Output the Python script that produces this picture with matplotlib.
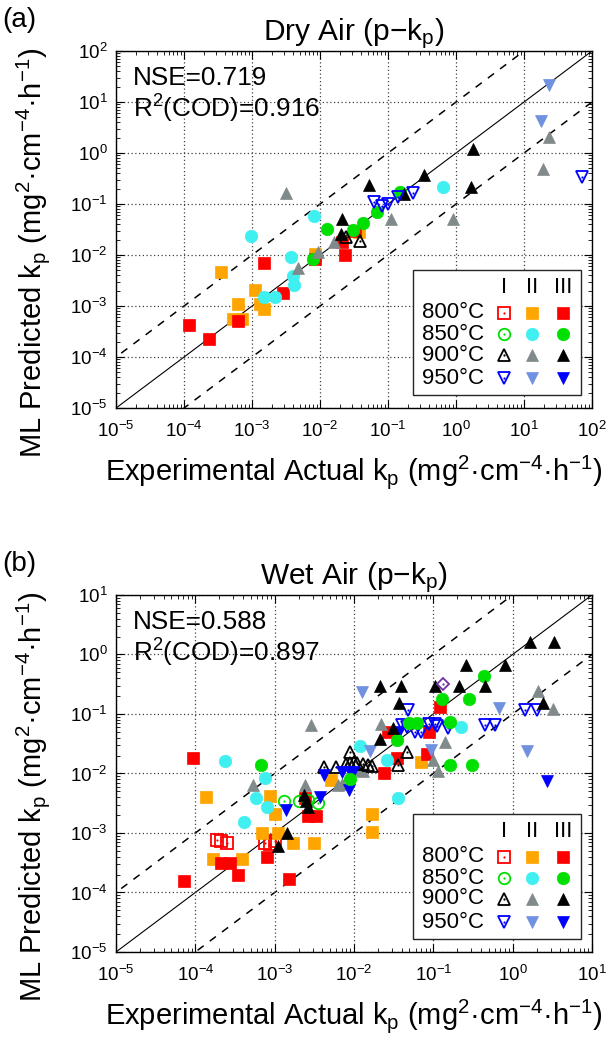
import matplotlib
matplotlib.use("Agg")
import matplotlib.pyplot as plt
from matplotlib.patches import Rectangle

plt.rcParams['font.family'] = ['Liberation Sans', 'DejaVu Sans']
plt.rcParams['mathtext.fontset'] = 'custom'
plt.rcParams['mathtext.rm'] = 'Liberation Sans'
plt.rcParams['mathtext.it'] = 'Liberation Sans:italic'
plt.rcParams['mathtext.bf'] = 'Liberation Sans:bold'

# ---------------- Dry air data ----------------
dry_800_II_x = [3.5e-4, 1.1e-3, 6.3e-4, 5.3e-4, 7.1e-4, 1.3e-3, 1.5e-3, 8.5e-3, 3.8e-2]
dry_800_II_y = [4.6e-3, 2.1e-3, 1.1e-3, 5.7e-4, 5.7e-4, 1.1e-3, 8.7e-4, 1.05e-2, 2.8e-2]
dry_800_III_x = [1.2e-4, 2.3e-4, 6.3e-4, 1.5e-3, 2.9e-3, 8.5e-3, 2.1e-2, 2.3e-2, 3.3e-2]
dry_800_III_y = [4.3e-4, 2.3e-4, 5.1e-4, 6.9e-3, 1.8e-3, 8.3e-3, 1.8e-2, 1.0e-2, 3.0e-2]
dry_850_II_x = [9.7e-4, 8.3e-3, 3.7e-3, 4.0e-3, 4.1e-3, 1.5e-3, 2.2e-3, 0.65]
dry_850_II_y = [2.4e-2, 5.8e-2, 9.3e-3, 3.9e-3, 2.6e-3, 1.5e-3, 1.5e-3, 0.22]
dry_850_III_x = [7.9e-3, 1.25e-2, 3.1e-2, 4.3e-2, 6.8e-2, 0.15]
dry_850_III_y = [8.3e-3, 3.3e-2, 3.1e-2, 4.3e-2, 7.1e-2, 0.17]
dry_900_I_x = [2.4e-2, 3.9e-2]
dry_900_I_y = [2.3e-2, 1.9e-2]
dry_900_II_x = [3.2e-3, 4.8e-3, 9.5e-3, 1.6e-2, 0.11, 0.89, 19, 23]
dry_900_II_y = [0.165, 5.5e-3, 1.15e-2, 1.8e-2, 5.2e-2, 5.2e-2, 0.48, 2.1]
dry_900_III_x = [5.2e-2, 0.34, 1.76, 1.66, 0.17, 2.1e-2, 2.05e-2]
dry_900_III_y = [0.24, 0.37, 1.2, 0.22, 0.155, 5.0e-2, 2.6e-2]
dry_950_I_x = [71, 0.23, 0.14, 0.10, 8.1e-2, 6.2e-2]
dry_950_I_y = [0.34, 0.165, 0.14, 0.098, 9.1e-2, 0.11]
dry_950_II_x = [23, 17.6]
dry_950_II_y = [22, 4.2]

# ---------------- Wet air data ----------------
wet_800_I_x = [1.9e-4, 2.1e-4, 2.5e-4, 7.5e-4, 8.7e-4, 1.0e-3]
wet_800_I_y = [7.5e-4, 7.2e-4, 6.8e-4, 6.9e-4, 6.6e-4, 7.3e-4]
wet_800_II_x = [1.35e-4, 8.8e-4, 1.0e-3, 6.9e-4, 1.1e-3, 1.7e-3, 3.1e-3, 1.65e-4, 3.9e-4,
                5.1e-3, 1.7e-2, 1.7e-2, 7.0e-2]
wet_800_II_y = [4.1e-3, 4.2e-3, 2.1e-3, 1.0e-3, 1.0e-3, 6.7e-4, 6.7e-4, 3.7e-4, 3.7e-4,
                7.8e-3, 2.1e-3, 1.03e-3, 1.55e-2]
wet_800_III_x = [9.4e-5, 7.2e-5, 2.1e-4, 2.7e-4, 3.5e-4, 8.0e-4, 1.5e-3, 2.6e-3, 3.3e-3,
                 2.4e-3, 2.4e-2, 3.5e-2, 8.4e-2, 8.9e-2, 2.7e-2, 0.12]
wet_800_III_y = [1.8e-2, 1.55e-4, 3.1e-4, 3.1e-4, 2.0e-4, 3.9e-4, 1.7e-4, 1.95e-3, 1.95e-3,
                 3.8e-3, 1.0e-2, 1.8e-2, 2.1e-2, 5.0e-2, 5.0e-2, 0.13]
wet_850_I_x = [1.3e-3, 2.0e-3, 2.6e-3, 3.5e-3]
wet_850_I_y = [3.4e-3, 3.5e-3, 3.6e-3, 3.2e-3]
wet_850_II_x = [2.4e-4, 7.6e-4, 5.9e-4, 8.0e-4, 4.1e-4, 1.2e-2, 2.6e-2, 3.6e-2, 0.22]
wet_850_II_y = [1.6e-2, 8.3e-3, 3.9e-3, 2.7e-3, 1.55e-3, 2.9e-2, 1.7e-2, 3.9e-3, 6.0e-2]
wet_850_III_x = [6.7e-4, 9.0e-3, 3.5e-2, 4.9e-2, 6.2e-2, 0.16, 0.13, 0.28, 0.44, 0.16, 0.31]
wet_850_III_y = [1.4e-2, 8.1e-3, 3.7e-2, 7.1e-2, 7.1e-2, 7.4e-2, 0.18, 0.18, 0.44, 1.4e-2, 1.4e-2]
wet_900_I_x = [4.2e-3, 6.0e-3, 8.0e-3, 9.0e-3, 1.0e-2, 1.1e-2, 1.3e-2, 1.5e-2, 1.7e-2,
               8.9e-3, 4.6e-2, 3.6e-2]
wet_900_I_y = [1.3e-2, 1.3e-2, 1.45e-2, 1.5e-2, 1.55e-2, 1.5e-2, 1.45e-2, 1.4e-2, 1.35e-2,
               2.3e-2, 2.3e-2, 1.4e-2]
wet_900_II_x = [2.9e-3, 5.4e-4, 2.4e-3, 6.2e-3, 7.0e-3, 1.2e-2, 1.3e-2, 2.2e-2, 0.14, 0.10,
                0.115, 2.07, 3.2]
wet_900_II_y = [6.5e-2, 6.4e-3, 6.4e-3, 6.4e-3, 6.6e-3, 1.15e-2, 1.1e-2, 6.9e-2, 3.4e-2,
                1.7e-2, 1.1e-2, 0.24, 0.12]
wet_900_III_x = [2.35e-3, 2.5e-3, 2.6e-3, 1.45e-3, 1.1e-3, 2.1e-2, 3.1e-2, 3.7e-2, 2.1e-2,
                 3.9e-2, 0.105, 0.21, 0.45, 0.26, 0.8, 1.65, 3.3, 2.4]
wet_900_III_y = [4.4e-3, 3.4e-3, 2.75e-3, 1.0e-3, 6.1e-4, 3.8e-2, 5.9e-2, 0.15, 0.30, 0.30,
                 0.30, 0.30, 0.30, 0.66, 0.66, 1.6, 1.6, 0.15]
wet_950_I_x = [4.8e-2, 4.0e-2, 4.6e-2, 5.9e-2, 7.0e-2, 8.7e-2, 0.105, 0.11, 0.155, 0.45,
               0.60, 1.43, 2.05]
wet_950_I_y = [0.117, 6.5e-2, 6.0e-2, 5.0e-2, 5.0e-2, 6.8e-2, 6.8e-2, 6.3e-2, 5.7e-2,
               6.5e-2, 6.5e-2, 0.117, 0.117]
wet_950_II_x = [1.25e-2, 1.6e-2, 9.3e-2, 0.67, 1.5]
wet_950_II_y = [0.23, 2.4e-2, 2.45e-2, 0.125, 2.4e-2]
wet_950_III_x = [4.2e-3, 7.0e-3, 8.9e-3, 9.8e-3, 1.4e-3, 3.7e-3, 8.7e-3, 3.7e-2, 2.7]
wet_950_III_y = [9.3e-3, 1.07e-2, 1.07e-2, 1.07e-2, 2.45e-3, 4.1e-3, 5.3e-3, 5.0e-2, 7.5e-3]
wet_other_x = [0.133]
wet_other_y = [0.32]

temps = ['800°C', '850°C', '900°C', '950°C']
stages = ['I', 'II', 'III']
dry_stats = ['NSE=0.719', 'R$^{2}$(COD)=0.916']
wet_stats = ['NSE=0.588', 'R$^{2}$(COD)=0.897']

C_RED = '#FF0000'
C_ORANGE = '#FFA500'
C_GREEN = '#00E000'
C_CYAN = '#40F0F0'
C_BLACK = '#000000'
C_GRAY = '#808A8A'
C_BLUE = '#0000FF'
C_LBLUE = '#7090E0'
style = {
    ('800', 'I'): ('s', C_RED, False), ('800', 'II'): ('s', C_ORANGE, True), ('800', 'III'): ('s', C_RED, True),
    ('850', 'I'): ('o', C_GREEN, False), ('850', 'II'): ('o', C_CYAN, True), ('850', 'III'): ('o', C_GREEN, True),
    ('900', 'I'): ('^', C_BLACK, False), ('900', 'II'): ('^', C_GRAY, True), ('900', 'III'): ('^', C_BLACK, True),
    ('950', 'I'): ('v', C_BLUE, False), ('950', 'II'): ('v', C_LBLUE, True), ('950', 'III'): ('v', C_BLUE, True),
}
MS = {'s': 9.0, 'o': 9.0, '^': 9.0, 'v': 9.0, 'D': 7.0}

FS_TICK = 13.5
FS_LABEL = 21
FS_TITLE = 21.5
FS_STATS = 18.8
FS_LEG = 16


def draw_marker(ax, x, y, m, c, filled, transform=None, clip=True):
    kw = {}
    if transform is not None:
        kw['transform'] = transform
    ms = MS[m]
    if filled:
        ax.plot(x, y, linestyle='none', marker=m, ms=ms, mfc=c, mec=c, mew=0.5,
                clip_on=clip, **kw)
    else:
        ax.plot(x, y, linestyle='none', marker=m, ms=ms * 0.92, mfc='none', mec=c, mew=1.3,
                clip_on=clip, **kw)
        ax.plot(x, y, linestyle='none', marker='o', ms=1.6, mfc=c, mec=c, mew=0,
                clip_on=clip, **kw)


def setup_axes(ax, dmax, title, stats):
    lo, hi = 1e-5, 10.0 ** dmax
    ax.set_xscale('log')
    ax.set_yscale('log')
    ax.set_xlim(lo, hi)
    ax.set_ylim(lo, hi)
    ticks = [10.0 ** k for k in range(-5, dmax + 1)]
    ax.set_xticks(ticks)
    ax.set_yticks(ticks)
    ax.tick_params(which='both', direction='in', top=True, right=True, labelsize=FS_TICK)
    ax.tick_params(which='major', length=6, width=0.8)
    ax.tick_params(axis='x', which='major', pad=9)
    ax.tick_params(axis='y', which='major', pad=6)
    ax.tick_params(which='minor', length=3, width=0.6)
    ax.grid(True, which='major', linestyle=(0, (1, 2)), color='0.25', linewidth=0.9)
    for s in ax.spines.values():
        s.set_linewidth(1.0)
    line = [lo / 100, hi * 100]
    ax.plot(line, line, color='black', lw=0.8, zorder=1)
    ax.plot(line, [v * 10 for v in line], color='black', lw=1.1, ls=(0, (5, 5)), zorder=1)
    ax.plot(line, [v / 10 for v in line], color='black', lw=1.1, ls=(0, (5, 5)), zorder=1)
    ax.set_title(title, fontsize=FS_TITLE, pad=7)
    ax.set_xlabel('Experimental Actual k$_\\mathregular{p}$ (mg$^\\mathregular{2}$·cm$^{-4}$·h$^{-1}$)',
                  fontsize=FS_LABEL, labelpad=9)
    ax.set_ylabel('ML Predicted k$_\\mathregular{p}$ (mg$^\\mathregular{2}$·cm$^{-4}$·h$^{-1}$)',
                  fontsize=FS_LABEL)
    ax.yaxis.set_label_coords(-0.135, 0.435)
    ax.text(0.036, 0.905, stats[0], transform=ax.transAxes, fontsize=FS_STATS, va='baseline')
    ax.text(0.036, 0.814, stats[1], transform=ax.transAxes, fontsize=FS_STATS, va='baseline')


def draw_legend(ax):
    T = ax.transAxes
    ax.add_patch(Rectangle((0.6246, 0.037), 0.3524, 0.35, transform=T, facecolor='white',
                           edgecolor='0.15', lw=1.0, zorder=5, clip_on=False))
    colx = [0.8158, 0.8746, 0.9397]
    rowy = [0.267, 0.207, 0.1485, 0.083]
    for cx, st in zip(colx, stages):
        ax.text(cx, 0.337, st, transform=T, fontsize=FS_LEG, ha='center', va='center', zorder=6)
    for ry, tlab in zip(rowy, temps):
        ax.text(0.642, ry, tlab, transform=T, fontsize=FS_LEG, ha='left', va='center', zorder=6)
        for cx, st in zip(colx, stages):
            m, c, f = style[(tlab[:3], st)]
            n0 = len(ax.lines)
            draw_marker(ax, [cx], [ry], m, c, f, transform=T, clip=False)
            for ln in ax.lines[n0:]:
                ln.set_zorder(7)


fig = plt.figure(figsize=(6.14, 10.41), dpi=100)
ax1 = fig.add_axes([0.1889, 0.608, 0.7753, 0.343])
ax2 = fig.add_axes([0.1889, 0.0855, 0.7753, 0.343])

setup_axes(ax1, 2, 'Dry Air (p$-$k$_\\mathregular{p}$)', dry_stats)
setup_axes(ax2, 1, 'Wet Air (p$-$k$_\\mathregular{p}$)', wet_stats)

dry_series = [
    (dry_800_II_x, dry_800_II_y, '800', 'II'),
    (dry_800_III_x, dry_800_III_y, '800', 'III'),
    (dry_850_II_x, dry_850_II_y, '850', 'II'),
    (dry_850_III_x, dry_850_III_y, '850', 'III'),
    (dry_900_II_x, dry_900_II_y, '900', 'II'),
    (dry_900_I_x, dry_900_I_y, '900', 'I'),
    (dry_900_III_x, dry_900_III_y, '900', 'III'),
    (dry_950_II_x, dry_950_II_y, '950', 'II'),
    (dry_950_I_x, dry_950_I_y, '950', 'I'),
]
wet_series = [
    (wet_800_I_x, wet_800_I_y, '800', 'I'),
    (wet_800_II_x, wet_800_II_y, '800', 'II'),
    (wet_800_III_x, wet_800_III_y, '800', 'III'),
    (wet_850_I_x, wet_850_I_y, '850', 'I'),
    (wet_850_II_x, wet_850_II_y, '850', 'II'),
    (wet_900_II_x, wet_900_II_y, '900', 'II'),
    (wet_900_I_x, wet_900_I_y, '900', 'I'),
    (wet_950_II_x, wet_950_II_y, '950', 'II'),
    (wet_950_III_x, wet_950_III_y, '950', 'III'),
    (wet_950_I_x, wet_950_I_y, '950', 'I'),
    (wet_850_III_x, wet_850_III_y, '850', 'III'),
    (wet_900_III_x, wet_900_III_y, '900', 'III'),
]
for ax, series in ((ax1, dry_series), (ax2, wet_series)):
    for xs, ys, t, st in series:
        m, c, f = style[(t, st)]
        draw_marker(ax, xs, ys, m, c, f)
draw_marker(ax2, wet_other_x, wet_other_y, 'D', '#7030A0', False)

draw_legend(ax1)
draw_legend(ax2)

fig.text(0.003, 0.993, '(a)', fontsize=20, ha='left', va='top')
fig.text(0.003, 0.471, '(b)', fontsize=20, ha='left', va='top')

fig.savefig('out.png', dpi=100)
